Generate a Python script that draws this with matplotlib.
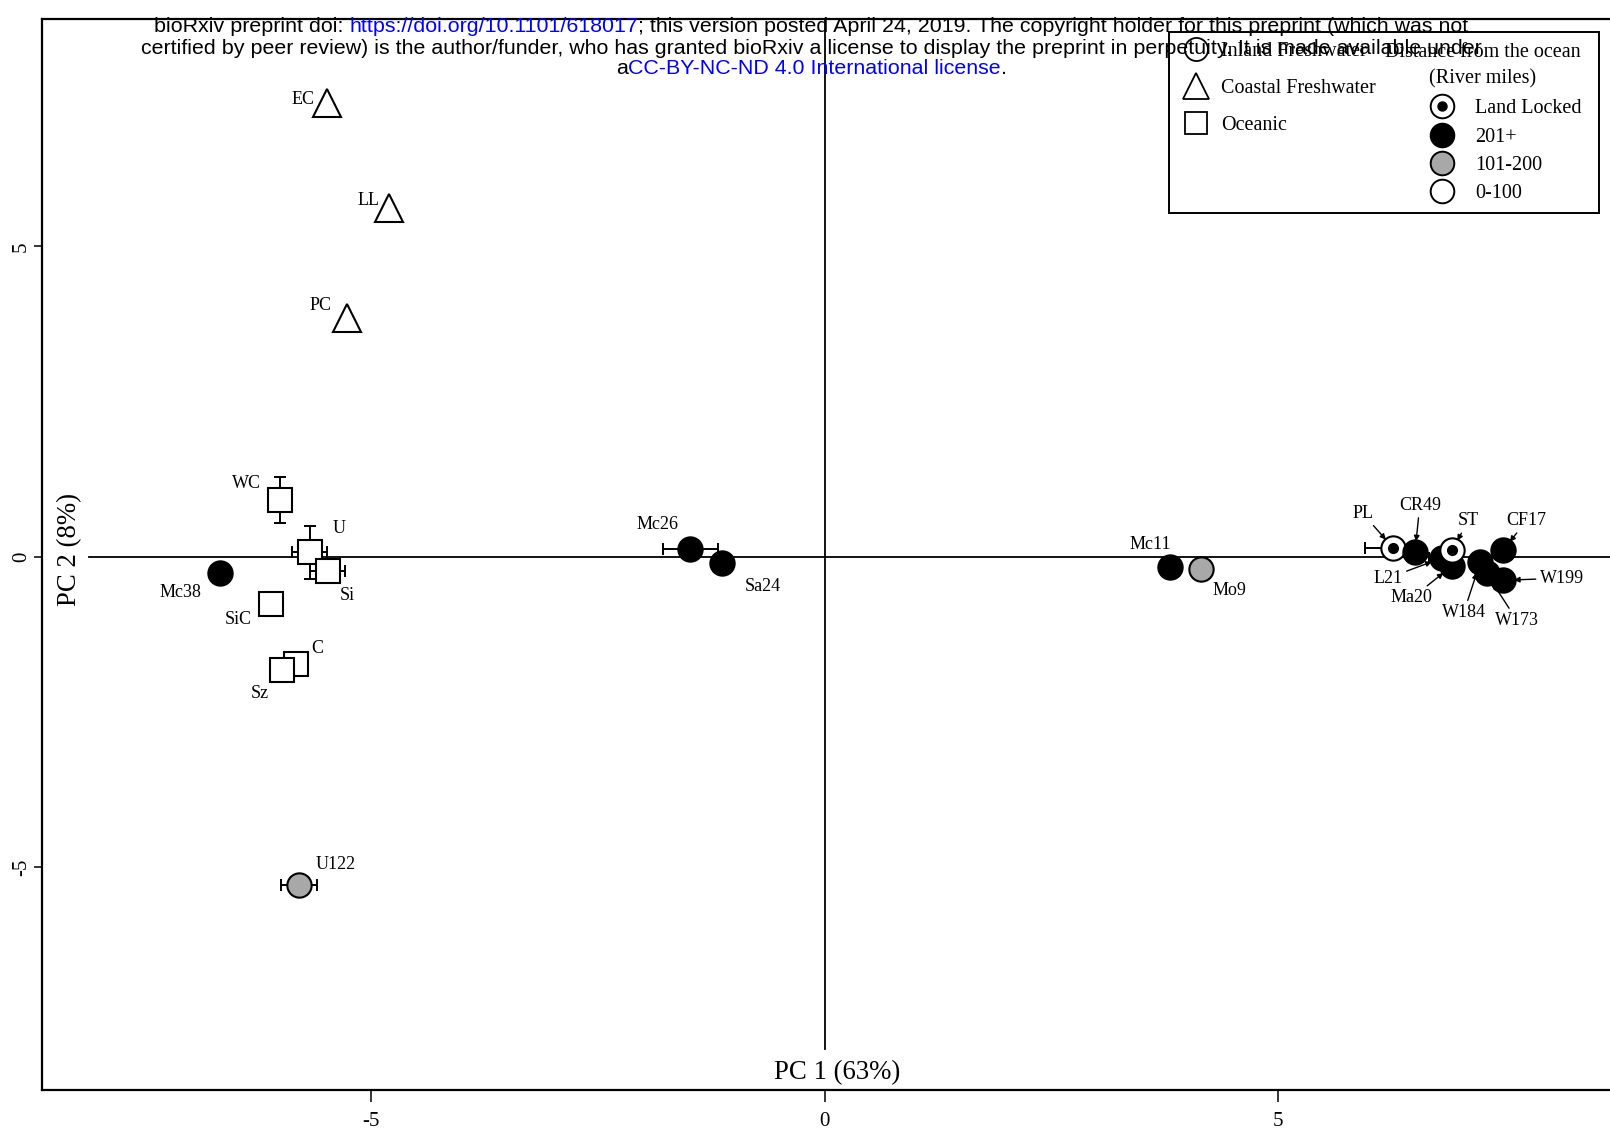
import matplotlib
matplotlib.use('Agg')
import matplotlib.pyplot as plt
from matplotlib.lines import Line2D
from matplotlib.patches import Rectangle

plt.rcParams['font.family'] = ['Liberation Serif', 'DejaVu Serif']

# PCA scores
names = ['EC', 'LL', 'PC', 'WC', 'U', 'Si', 'SiC', 'C', 'Sz', 'Mc38', 'U122',
         'Mc26', 'Sa24', 'Mc11', 'Mo9', 'L21', 'Ma20', 'PL', 'CR49', 'ST',
         'W184', 'W173', 'CF17', 'W199']
pc1 = [-5.49, -4.80, -5.27, -6.01, -5.68, -5.48, -6.11, -5.83, -5.98, -6.67, -5.80,
       -1.48, -1.13, 3.81, 4.15, 6.81, 6.92, 6.27, 6.51, 6.92,
       7.23, 7.30, 7.48, 7.48]
pc2 = [7.30, 5.61, 3.84, 0.91, 0.07, -0.23, -0.76, -1.73, -1.82, -0.26, -5.29,
       0.12, -0.10, -0.17, -0.20, -0.02, -0.15, 0.14, 0.07, 0.10,
       -0.09, -0.27, 0.10, -0.38]
pc1_err = [0, 0, 0, 0, 0.19, 0.19, 0, 0, 0, 0, 0.20,
           0.30, 0, 0, 0, 0.15, 0, 0.31, 0, 0,
           0, 0, 0, 0]
pc2_err = [0, 0, 0, 0.37, 0.43, 0, 0, 0, 0, 0, 0,
           0, 0, 0, 0, 0, 0, 0, 0, 0,
           0, 0, 0, 0]
habitat = ['Coastal Freshwater'] * 3 + ['Oceanic'] * 6 + ['Inland Freshwater'] * 15
distance = [''] * 9 + ['201+', '101-200', '201+', '201+', '201+', '101-200',
                       '201+', '201+', 'Land Locked', '201+', 'Land Locked',
                       '201+', '201+', '201+', '201+']

habitat_order = ['Inland Freshwater', 'Coastal Freshwater', 'Oceanic']
distance_order = ['Land Locked', '201+', '101-200', '0-100']

# label offsets (points) and whether an arrow is drawn
label_offsets = {
    'EC': (-17, 3), 'LL': (-15, 6), 'PC': (-19, 9), 'WC': (-24, 12),
    'U': (21, 17.5), 'Si': (14, -17.5), 'SiC': (-23, -11), 'C': (15.5, 11),
    'Sz': (-16, -17), 'Mc38': (-28, -14), 'U122': (27, 15), 'Mc26': (-23.5, 17.5),
    'Sa24': (29, -17), 'Mc11': (-14, 16.5), 'Mo9': (20.5, -15.5),
    'PL': (-22, 25), 'CR49': (3.5, 34), 'ST': (11.5, 21.5), 'CF17': (17, 21.5),
    'W199': (42.5, 1.5), 'L21': (-39, -14.5), 'Ma20': (-29, -23),
    'W184': (-12, -36.5), 'W173': (22, -34),
}
arrowed = ['PL', 'CR49', 'ST', 'CF17', 'W199', 'L21', 'Ma20', 'W184', 'W173']

shape = {'Inland Freshwater': 'o', 'Coastal Freshwater': '^', 'Oceanic': 's'}
msize = {'o': 17.5, '^': 19.5, 's': 17}
fill = {'Land Locked': 'white', '201+': 'black', '101-200': '#a8a8a8',
        '0-100': 'white', '': 'white'}

fig = plt.figure(figsize=(16.1, 11.34), dpi=100)
ax = fig.add_axes([0.0261, 0.0388, 0.9761, 0.9444])
ax.set_xlim(-8.63, 8.70)
ax.set_ylim(-8.59, 8.66)

# origin lines
ax.axhline(0, xmin=0.03, color='black', lw=1.3, zorder=1)
ax.axvline(0, ymin=0.038, color='black', lw=1.3, zorder=1)

for i, nm in enumerate(names):
    m = shape[habitat[i]]
    if pc1_err[i] or pc2_err[i]:
        ax.errorbar(pc1[i], pc2[i], xerr=pc1_err[i] or None, yerr=pc2_err[i] or None,
                    fmt='none', ecolor='black', elinewidth=1.4, capsize=4.5,
                    capthick=1.4, zorder=2 + i * 0.01)
    ax.plot(pc1[i], pc2[i], marker=m, ms=msize[m], mfc=fill[distance[i]],
            mec='black', mew=1.5, ls='none', zorder=3 + i * 0.01)
    if distance[i] == 'Land Locked':
        ax.plot(pc1[i], pc2[i], marker='o', ms=7, mfc='black', mec='black',
                ls='none', zorder=3.005 + i * 0.01)
    dx, dy = label_offsets[nm]
    if nm in arrowed:
        ax.annotate(nm, (pc1[i], pc2[i]), xytext=(dx, dy), textcoords='offset points',
                    ha='center', va='center', fontsize=13, zorder=5,
                    arrowprops=dict(arrowstyle='-|>', color='black', lw=1.0,
                                    mutation_scale=8, shrinkA=1, shrinkB=8))
    else:
        ax.annotate(nm, (pc1[i], pc2[i]), xytext=(dx, dy), textcoords='offset points',
                    ha='center', va='center', fontsize=13, zorder=5)

# axes styling
for side in ['top', 'left', 'bottom']:
    ax.spines[side].set_linewidth(1.6)
ax.spines['right'].set_visible(False)
ax.set_xticks([-5, 0, 5])
ax.set_xticklabels(['-5', '0', '5'])
ax.set_yticks([-5, 0, 5])
ax.set_yticklabels(['-5', '0', '5'], rotation=90, va='center')
ax.tick_params(axis='x', direction='out', length=8.5, width=1.1, pad=7.5, labelsize=15)
ax.tick_params(axis='y', direction='out', length=6, width=1.1, pad=2, labelsize=15)

ax.set_xlabel('PC 1 (63%)', fontsize=19.3, va='center')
ax.xaxis.set_label_coords(0.506, 0.0160)
ax.set_ylabel('PC 2 (8%)', fontsize=19.3, va='center')
ax.yaxis.set_label_coords(0.0175, 0.505)

# legend
hab_handles = [Line2D([], [], marker=shape[h], ms=msize[shape[h]] * 0.95, mfc='white',
                      mec='black', mew=1.3, ls='none') for h in habitat_order]
leg1 = ax.legend(hab_handles, habitat_order, loc='upper left',
                 bbox_to_anchor=(0.7245, 0.9782), frameon=False, fontsize=14.5,
                 borderpad=0, borderaxespad=0, handlelength=1.5, handletextpad=0.5,
                 labelspacing=0.87, numpoints=1)
ax.add_artist(leg1)

dist_handles = []
for d in distance_order:
    outer = Line2D([], [], marker='o', ms=17, mfc=fill[d], mec='black', mew=1.4, ls='none')
    if d == 'Land Locked':
        inner = Line2D([], [], marker='o', ms=6.5, mfc='black', mec='black', ls='none')
        dist_handles.append((outer, inner))
    else:
        dist_handles.append(outer)
ax.legend(dist_handles, distance_order, loc='upper left',
          bbox_to_anchor=(0.8811, 0.9252), frameon=False, fontsize=14.5,
          borderpad=0, borderaxespad=0, handlelength=1.5, handletextpad=0.9,
          labelspacing=0.46, numpoints=1)
ax.text(0.9169, 0.9565, 'Distance from the ocean\n(River miles)', transform=ax.transAxes,
        ha='center', va='center', fontsize=14.5, linespacing=1.54)
ax.add_patch(Rectangle((0.7171, 0.8189), 0.2736, 0.169, transform=ax.transAxes,
                       fill=False, lw=1.4, ec='black', zorder=6))

# bioRxiv header
header = [
    [('bioRxiv preprint doi: ', 'black'), ('https://doi.org/10.1101/618017', 'blue'),
     ('; this version posted April 24, 2019. The copyright holder for this preprint (which was not', 'black')],
    [('certified by peer review) is the author/funder, who has granted bioRxiv a license to display the preprint in perpetuity. It is made available under', 'black')],
    [('a', 'black'), ('CC-BY-NC-ND 4.0 International license', 'blue'), ('.', 'black')],
]
header_y = [1 - 27 / 1134, 1 - 48 / 1134, 1 - 69 / 1134]
renderer = fig.canvas.get_renderer()
for parts, y in zip(header, header_y):
    full = ''.join(p for p, _ in parts)
    probe = fig.text(0.504, y, full, fontsize=15.4, family='Liberation Sans',
                     ha='center', va='center')
    bb = probe.get_window_extent(renderer)
    probe.remove()
    x = bb.x0 / fig.bbox.width
    for s, c in parts:
        t = fig.text(x, y, s, fontsize=15.4, family='Liberation Sans', color=c,
                     ha='left', va='center', zorder=10)
        x += t.get_window_extent(renderer).width / fig.bbox.width

fig.savefig('out.png', dpi=100)
